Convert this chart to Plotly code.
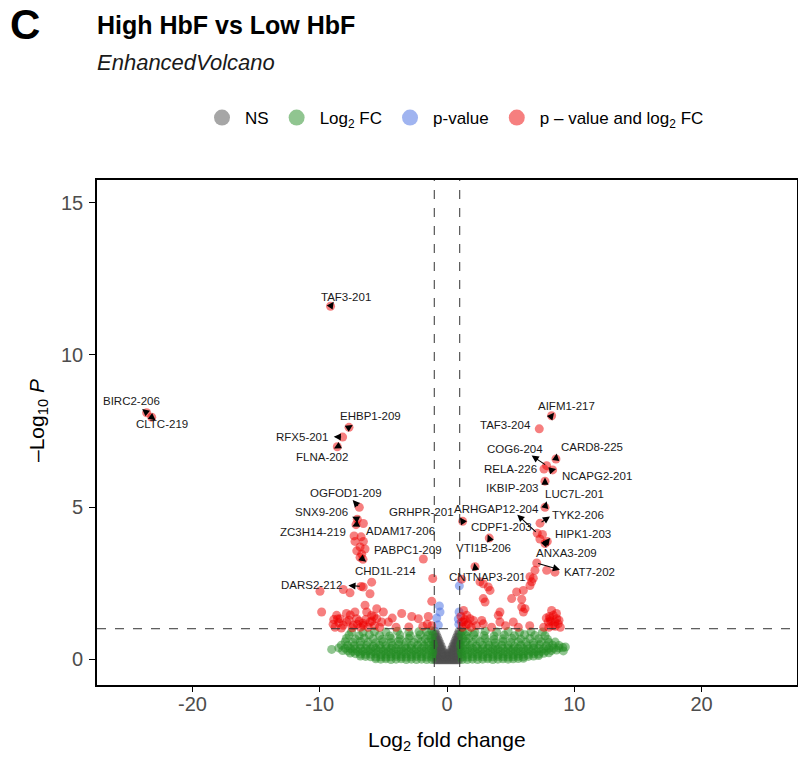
import plotly.graph_objects as go

FONT = "Liberation Sans, Arial, sans-serif"

# ---------------- data ----------------
FC_CUTOFF = 1.0          # |log2 FC| cut-off (vertical dashed lines)
P_CUTOFF_NEGLOG = 1.0    # -log10 p cut-off (horizontal dashed line)

x_tick_vals = [-20, -10, 0, 10, 20]
x_tick_text = ["-20", "-10", "0", "10", "20"]
y_tick_vals = [0, 5, 10, 15]
y_tick_text = ["0", "5", "10", "15"]

legend_names = ["NS", "Log<sub>2</sub> FC", "p-value", "p \u2013 value and log<sub>2</sub> FC"]

# labelled genes
genes = ["TAF3-201", "BIRC2-206", "CLTC-219", "EHBP1-209", "RFX5-201", "FLNA-202",
         "OGFOD1-209", "SNX9-206", "ZC3H14-219", "ADAM17-206", "PABPC1-209", "CHD1L-214",
         "DARS2-212", "GRHPR-201", "AIFM1-217", "TAF3-204", "CARD8-225", "COG6-204",
         "RELA-226", "NCAPG2-201", "IKBIP-203", "LUC7L-201", "ARHGAP12-204", "TYK2-206",
         "CDPF1-203", "HIPK1-203", "ANXA3-209", "VTI1B-206", "KAT7-202", "CNTNAP3-201"]
gene_fc = [-9.15, -23.6, -23.2, -7.7, -8.2, -8.62,
           -6.89, -7.05, -7.15, -6.57, -1.86, -6.6,
           -6.75, 1.23, 8.22, 7.25, 8.56, 7.83,
           7.62, 8.3, 7.7, 7.7, 7.09, 7.31,
           3.32, 7.88, 7.7, 2.2, 7.05, 6.52]
gene_p = [11.6, 8.1, 7.95, 7.62, 7.3, 6.98,
          4.99, 4.6, 4.42, 4.46, 3.29, 3.28,
          2.39, 4.53, 8.0, 7.57, 6.58, 6.36,
          6.25, 6.22, 5.85, 4.99, 4.14, 4.47,
          3.98, 3.87, 3.8, 3.04, 3.16, 2.71]

# significant (p and FC) - unlabelled
red_fc = [-7.23, -6.57, -6.83, -6.44, -7.09, -6.7, -6.83, -7.3, -6.75,
          -1.12, -9.98, -8.15, -7.62, -6.58, -5.92, -6.05,
          -6.44, -5.52, -6.31, -5.92, -5.0, -7.23, -8.67, -8.41, -7.88, -8.8, -8.15, -7.1,
          -5.52, -5.13, -4.61, -6.05, -6.58, -7.36, -9.85,
          -3.56, -2.77, -2.25, -1.47, -1.2,
          -1.2, -1.55, -1.9, -3.0, -4.0, -8.5, -7.6, -6.9, -6.2, -5.7, -7.9, -8.95, -6.4,
          -5.3, -4.3, -7.45, -8.3, -6.8, -5.9, -8.6, -7.7, -6.6, -5.75, -8.9, -7.05,
          1.15, 2.59, 2.85, 3.24, 3.38, 2.85, 2.99,
          5.47, 6.0, 6.52, 6.65, 6.78, 5.08, 5.87, 5.87, 6.13, 6.0,
          4.16, 4.03, 4.16, 5.21,
          1.55, 1.81, 1.28, 1.67, 2.07, 2.73, 2.85,
          8.09, 8.35, 8.62, 8.48, 7.96, 8.74, 8.22,
          6.91, 7.83, 8.48, 7.5, 7.3,
          1.2, 1.4, 1.1, 1.9, 2.3, 3.5, 4.6, 5.6, 6.5, 7.6, 8.0, 8.3, 8.9, 1.3, 8.6, 8.8,
          1.5, 1.15, 7.8, 8.15, 8.5, 8.05]
red_p = [3.87, 3.87, 3.69, 3.62, 3.56, 3.45, 3.35, 4.05, 4.02,
         2.65, 2.23, 2.29, 2.18, 2.37, 2.53, 2.15,
         1.77, 1.66, 1.55, 1.44, 1.55, 1.55, 1.44, 1.33, 1.22, 1.05, 1.11, 1.33,
         1.33, 1.22, 1.22, 1.22, 1.11, 1.11, 1.55,
         1.5, 1.4, 1.33, 1.4, 1.9,
         1.1, 1.15, 1.08, 1.06, 1.05, 1.2, 1.45, 1.25, 1.05, 1.1, 1.5, 1.15, 1.3,
         1.05, 1.35, 1.03, 1.02, 1.05, 1.25, 1.32, 1.28, 1.18, 1.4, 1.3, 1.15,
         2.63, 2.54, 2.48, 2.37, 2.26, 1.99, 1.88,
         2.21, 2.26, 2.42, 2.54, 2.66, 1.99, 1.97, 1.71, 1.66, 1.55,
         1.55, 1.44, 1.22, 1.22,
         1.44, 1.33, 1.22, 1.16, 1.27, 1.27, 1.16,
         1.33, 1.44, 1.33, 1.22, 1.22, 1.16, 1.6,
         2.92, 2.92, 2.86, 4.1, 3.95,
         1.05, 1.3, 1.4, 1.05, 1.1, 1.05, 1.1, 1.05, 1.1, 1.05, 1.05, 1.1, 1.05, 1.6, 1.5, 1.28,
         1.12, 1.22, 1.35, 1.25, 1.08, 1.4]

# p-value only (blue)
blue_fc = [-0.55, -0.81, -0.68, -0.6, 0.97, 0.95, 0.89, 0.93]
blue_p = [1.55, 1.35, 1.12, 1.75, 2.41, 1.55, 1.32, 1.15]

# not significant (grey)
ns_fc = [-0.95, -0.95, -0.95, -0.95, -0.95, -0.95, -0.95, -0.95, -0.95, -0.95,
         -0.85, -0.85, -0.85, -0.85, -0.85, -0.85, -0.85, -0.85, -0.85,
         -0.75, -0.75, -0.75, -0.75, -0.75, -0.75, -0.75, -0.75,
         -0.65, -0.65, -0.65, -0.65, -0.65, -0.65, -0.65,
         -0.55, -0.55, -0.55, -0.55, -0.55, -0.55,
         -0.45, -0.45, -0.45, -0.45, -0.45,
         -0.35, -0.35, -0.35, -0.35,
         -0.25, -0.25, -0.25,
         -0.15, -0.15, -0.15,
         -0.05, -0.05,
         0.05, 0.05,
         0.15, 0.15, 0.15,
         0.25, 0.25, 0.25,
         0.35, 0.35, 0.35, 0.35,
         0.45, 0.45, 0.45, 0.45, 0.45,
         0.55, 0.55, 0.55, 0.55, 0.55, 0.55,
         0.65, 0.65, 0.65, 0.65, 0.65, 0.65, 0.65,
         0.75, 0.75, 0.75, 0.75, 0.75, 0.75, 0.75, 0.75,
         0.85, 0.85, 0.85, 0.85, 0.85, 0.85, 0.85, 0.85, 0.85,
         0.95, 0.95, 0.95, 0.95, 0.95, 0.95, 0.95, 0.95, 0.95, 0.95]
ns_p = [-0.02, 0.1, 0.2, 0.3, 0.4, 0.5, 0.6, 0.7, 0.8, 0.92,
        -0.02, 0.1, 0.2, 0.3, 0.4, 0.5, 0.6, 0.7, 0.82,
        -0.02, 0.1, 0.2, 0.3, 0.4, 0.5, 0.6, 0.72,
        -0.02, 0.1, 0.2, 0.3, 0.4, 0.5, 0.62,
        -0.02, 0.1, 0.2, 0.3, 0.4, 0.52,
        -0.02, 0.1, 0.2, 0.3, 0.42,
        -0.02, 0.1, 0.2, 0.32,
        -0.02, 0.1, 0.22,
        -0.02, 0.08, 0.17,
        -0.02, 0.1,
        -0.02, 0.1,
        -0.02, 0.08, 0.17,
        -0.02, 0.1, 0.22,
        -0.02, 0.1, 0.2, 0.32,
        -0.02, 0.1, 0.2, 0.3, 0.42,
        -0.02, 0.1, 0.2, 0.3, 0.4, 0.52,
        -0.02, 0.1, 0.2, 0.3, 0.4, 0.5, 0.62,
        -0.02, 0.1, 0.2, 0.3, 0.4, 0.5, 0.6, 0.72,
        -0.02, 0.1, 0.2, 0.3, 0.4, 0.5, 0.6, 0.7, 0.82,
        -0.02, 0.1, 0.2, 0.3, 0.4, 0.5, 0.6, 0.7, 0.8, 0.92]

# log2 FC only (green), read row by row from the bottom of the cloud upward
green_fc = [
    # y ~ 0.00
    -5.6, -5.2, -4.8, -4.4, -4.0, -3.6, -3.2, -2.8, -2.4, -2.0, -1.6, -1.2,
    1.2, 1.6, 2.0, 2.4, 2.8, 3.2, 3.6, 4.0, 4.4, 4.8, 5.2, 5.6, 6.0,
    # y ~ 0.08
    -6.8, -6.4, -6.0, -5.6, -5.2, -4.8, -4.4, -4.0, -3.6, -3.2, -2.8, -2.4, -2.0, -1.6, -1.2,
    1.2, 1.6, 2.0, 2.4, 2.8, 3.2, 3.6, 4.0, 4.4, 4.8, 5.2, 5.6, 6.0, 6.4, 6.8, 7.2,
    # y ~ 0.17
    -7.6, -7.2, -6.8, -6.4, -6.0, -5.6, -5.2, -4.8, -4.4, -4.0, -3.6, -3.2, -2.8, -2.4, -2.0, -1.6, -1.15,
    1.15, 1.6, 2.0, 2.4, 2.8, 3.2, 3.6, 4.0, 4.4, 4.8, 5.2, 5.6, 6.0, 6.4, 6.8, 7.2, 7.6, 8.0,
    # y ~ 0.26
    -8.2, -7.8, -7.4, -7.0, -6.6, -6.2, -5.8, -5.4, -5.0, -4.6, -4.2, -3.8, -3.4, -3.0, -2.6, -2.2, -1.8, -1.4, -1.1,
    1.1, 1.4, 1.8, 2.2, 2.6, 3.0, 3.4, 3.8, 4.2, 4.6, 5.0, 5.4, 5.8, 6.2, 6.6, 7.0, 7.4, 7.8, 8.2, 8.6,
    # y ~ 0.35
    -8.5, -8.0, -7.6, -7.2, -6.8, -6.4, -6.0, -5.6, -5.2, -4.8, -4.4, -4.0, -3.6, -3.2, -2.8, -2.4, -2.0, -1.6, -1.2,
    1.2, 1.6, 2.0, 2.4, 2.8, 3.2, 3.6, 4.0, 4.4, 4.8, 5.2, 5.6, 6.0, 6.4, 6.8, 7.2, 7.6, 8.0, 8.4, 8.8, 9.1,
    # y ~ 0.45
    -8.3, -7.8, -7.3, -6.8, -6.3, -5.8, -5.3, -4.8, -4.3, -3.8, -3.3, -2.8, -2.3, -1.8, -1.4, -1.05,
    1.05, 1.4, 1.8, 2.3, 2.8, 3.3, 3.8, 4.3, 4.8, 5.3, 5.8, 6.3, 6.8, 7.3, 7.8, 8.3, 8.8,
    # y ~ 0.56
    -8.0, -7.4, -6.8, -6.2, -5.6, -5.0, -4.4, -3.8, -3.2, -2.6, -2.0, -1.5, -1.1,
    1.1, 1.5, 2.0, 2.6, 3.2, 3.8, 4.4, 5.0, 5.6, 6.2, 6.8, 7.4, 8.0, 8.5,
    # y ~ 0.67
    -7.9, -7.2, -6.5, -5.8, -5.1, -4.4, -3.7, -3.0, -2.3, -1.7, -1.25,
    1.25, 1.7, 2.3, 3.0, 3.7, 4.4, 5.1, 5.8, 6.5, 7.2, 7.9,
    # y ~ 0.78
    -7.7, -6.9, -6.1, -5.3, -4.5, -3.7, -2.9, -2.1, -1.5, -1.1,
    1.1, 1.5, 2.1, 2.9, 3.7, 4.5, 5.3, 6.1, 6.9, 7.7,
    # y ~ 0.90
    -7.5, -6.6, -5.7, -4.8, -3.9, -3.0, -2.2, -1.6, -1.2,
    1.2, 1.6, 2.2, 3.0, 3.9, 4.8, 5.7, 6.6, 7.5,
    # outliers
    -9.06, 9.14, 9.3]
green_p = [
    0.01, 0.0, 0.01, -0.01, 0.0, 0.01, -0.01, 0.0, -0.01, 0.0, -0.01, -0.01,
    -0.01, -0.01, 0.0, -0.01, 0.0, 0.01, -0.01, 0.0, 0.01, 0.0, 0.01, 0.02, 0.03,
    0.1, 0.09, 0.08, 0.07, 0.08, 0.07, 0.08, 0.09, 0.08, 0.07, 0.08, 0.09, 0.08, 0.07, 0.08,
    0.08, 0.07, 0.08, 0.09, 0.08, 0.07, 0.08, 0.09, 0.08, 0.07, 0.08, 0.09, 0.08, 0.09, 0.1, 0.12,
    0.2, 0.18, 0.17, 0.16, 0.17, 0.18, 0.16, 0.17, 0.18, 0.16, 0.17, 0.18, 0.16, 0.17, 0.18, 0.16, 0.17,
    0.17, 0.16, 0.18, 0.17, 0.16, 0.18, 0.17, 0.16, 0.18, 0.17, 0.16, 0.18, 0.17, 0.16, 0.18, 0.17, 0.19, 0.21,
    0.28, 0.27, 0.26, 0.25, 0.26, 0.27, 0.25, 0.26, 0.27, 0.25, 0.26, 0.27, 0.25, 0.26, 0.27, 0.25, 0.26, 0.27, 0.25,
    0.25, 0.27, 0.26, 0.25, 0.27, 0.26, 0.25, 0.27, 0.26, 0.25, 0.27, 0.26, 0.25, 0.27, 0.26, 0.25, 0.26, 0.27, 0.28, 0.3,
    0.37, 0.36, 0.35, 0.34, 0.36, 0.35, 0.34, 0.36, 0.35, 0.34, 0.36, 0.35, 0.34, 0.36, 0.35, 0.34, 0.36, 0.35, 0.34,
    0.35, 0.34, 0.36, 0.35, 0.34, 0.36, 0.35, 0.34, 0.36, 0.35, 0.34, 0.36, 0.35, 0.34, 0.36, 0.35, 0.34, 0.36, 0.36, 0.37, 0.38,
    0.46, 0.45, 0.44, 0.46, 0.45, 0.43, 0.46, 0.44, 0.45, 0.47, 0.44, 0.45, 0.46, 0.44, 0.45, 0.46,
    0.44, 0.46, 0.45, 0.43, 0.46, 0.45, 0.44, 0.46, 0.45, 0.43, 0.46, 0.44, 0.45, 0.47, 0.44, 0.46, 0.45,
    0.57, 0.55, 0.58, 0.56, 0.54, 0.57, 0.55, 0.58, 0.56, 0.55, 0.57, 0.56, 0.58,
    0.56, 0.58, 0.55, 0.57, 0.56, 0.54, 0.58, 0.55, 0.57, 0.56, 0.54, 0.57, 0.55, 0.56,
    0.68, 0.66, 0.69, 0.67, 0.65, 0.68, 0.66, 0.69, 0.67, 0.66, 0.68,
    0.67, 0.69, 0.66, 0.68, 0.65, 0.67, 0.69, 0.66, 0.68, 0.67, 0.65,
    0.79, 0.77, 0.8, 0.78, 0.76, 0.79, 0.77, 0.8, 0.78, 0.8,
    0.79, 0.77, 0.8, 0.78, 0.76, 0.79, 0.77, 0.8, 0.78, 0.77,
    0.9, 0.88, 0.91, 0.89, 0.92, 0.88, 0.9, 0.91, 0.93,
    0.92, 0.9, 0.88, 0.92, 0.89, 0.91, 0.88, 0.9, 0.89,
    0.32, 0.27, 0.4]

# ---------------- label placement (layout) ----------------
label_x = [-7.96, -24.8, -22.38, -6.0, -11.42, -9.84,
           -7.93, -9.84, -10.5, -3.69, -3.04, -4.87,
           -10.63, -1.99, 9.4, 4.56, 11.37, 5.34,
           4.95, 11.76, 5.08, 10.05, 3.9, 10.31,
           4.3, 10.71, 9.4, 2.83, 11.18, 3.22]
label_y = [11.92, 8.48, 7.72, 8.0, 7.3, 6.63,
           5.46, 4.85, 4.17, 4.22, 3.6, 2.9,
           2.43, 4.85, 8.33, 7.71, 6.96, 6.91,
           6.25, 6.03, 5.63, 5.43, 4.93, 4.74,
           4.33, 4.11, 3.49, 3.65, 2.85, 2.7]
# where each connector arrow-head sits (None = no connector)
head_x = [-8.9, -23.95, -22.9, -7.41, -8.9, -8.88,
          -7.41, -7.45, -7.45, -6.35, -2.07, -6.35,
          -7.75, 1.02, 8.41, 7.05, 8.62, 6.65,
          7.45, 8.58, 7.7, 7.83, 5.52, 8.09,
          3.2, 8.09, 7.96, 2.15, 8.88, None]
head_y = [11.75, 8.22, 7.85, 7.7, 7.31, 6.92,
          5.23, 4.68, 4.36, 4.4, 3.36, 3.2,
          2.42, 4.66, 8.1, 7.62, 6.76, 6.69,
          6.28, 6.25, 5.97, 5.19, 4.75, 4.69,
          4.1, 3.98, 3.92, 3.16, 2.94, None]

# ---------------- figure ----------------
COL_NS = "#4D4D4D"
COL_FC = "#228B22"
COL_P = "#4169E1"
COL_BOTH = "#EE0000"
ALPHA = 0.5
MSIZE = 9

fig_w, fig_h = 798, 763
m_l, m_r, m_t, m_b = 97, 1, 180, 78
pw, ph = fig_w - m_l - m_r, fig_h - m_t - m_b


def px2paper(px, py):
    return (px - m_l) / pw, (fig_h - m_b - py) / ph


fig = go.Figure()


def add_points(xs, ys, col):
    fig.add_trace(go.Scatter(x=xs, y=ys, mode="markers", showlegend=False, hoverinfo="skip",
                             marker=dict(size=MSIZE, color=col, opacity=ALPHA, line=dict(width=0))))


add_points(ns_fc, ns_p, COL_NS)
add_points(green_fc, green_p, COL_FC)
add_points(blue_fc, blue_p, COL_P)
add_points(red_fc, red_p, COL_BOTH)
add_points(gene_fc, gene_p, COL_BOTH)

# legend-only entries
for name, col in zip(legend_names, [COL_NS, COL_FC, COL_P, COL_BOTH]):
    fig.add_trace(go.Scatter(x=[None], y=[None], mode="markers", name=name,
                             marker=dict(size=16, color=col, opacity=ALPHA, line=dict(width=0))))

annotations = []
for i, g in enumerate(genes):
    if head_x[i] is not None:
        annotations.append(dict(x=head_x[i], y=head_y[i], ax=gene_fc[i], ay=gene_p[i],
                                xref="x", yref="y", axref="x", ayref="y", text="",
                                showarrow=True, arrowhead=2, arrowsize=1.3, arrowwidth=1.1,
                                arrowcolor="black", standoff=0, startstandoff=0))
    annotations.append(dict(x=label_x[i], y=label_y[i], xref="x", yref="y", text=g,
                            showarrow=False, font=dict(family=FONT, size=11.5, color="#1a1a1a")))

cx, cy = px2paper(8, 25)
annotations.append(dict(x=cx, y=cy, xref="paper", yref="paper", text="<b>C</b>", showarrow=False,
                        xanchor="left", yanchor="middle", font=dict(family=FONT, size=42, color="black")))
tx, ty = px2paper(95, 25)
annotations.append(dict(x=tx, y=ty, xref="paper", yref="paper", text="<b>High HbF vs Low HbF</b>",
                        showarrow=False, xanchor="left", yanchor="middle",
                        font=dict(family=FONT, size=25, color="black")))
sx, sy = px2paper(95, 62)
annotations.append(dict(x=sx, y=sy, xref="paper", yref="paper", text="<i>EnhancedVolcano</i>",
                        showarrow=False, xanchor="left", yanchor="middle",
                        font=dict(family=FONT, size=22, color="#1a1a1a")))
yx, yy = px2paper(38, 421)
annotations.append(dict(x=yx, y=yy, xref="paper", yref="paper",
                        text="\u2013Log<sub>10</sub> <i>P</i>", textangle=-90,
                        showarrow=False, xanchor="center", yanchor="middle",
                        font=dict(family=FONT, size=21, color="black")))
ax_, ay_ = px2paper(447, 741)
annotations.append(dict(x=ax_, y=ay_, xref="paper", yref="paper",
                        text="Log<sub>2</sub> fold change",
                        showarrow=False, xanchor="center", yanchor="middle",
                        font=dict(family=FONT, size=21, color="black")))

shapes = []
for xv in (-FC_CUTOFF, FC_CUTOFF):
    shapes.append(dict(type="line", xref="x", yref="paper", x0=xv, x1=xv, y0=0, y1=1,
                       line=dict(color="#333333", width=1, dash="dash"), layer="above"))
shapes.append(dict(type="line", xref="paper", yref="y", x0=0, x1=1, y0=P_CUTOFF_NEGLOG,
                   y1=P_CUTOFF_NEGLOG, line=dict(color="#333333", width=1, dash="dash"), layer="above"))

lx, ly = px2paper(454, 118)
fig.update_layout(
    width=fig_w, height=fig_h,
    margin=dict(l=m_l, r=m_r, t=m_t, b=m_b, pad=0, autoexpand=False),
    paper_bgcolor="white", plot_bgcolor="white",
    font=dict(family=FONT, color="black"),
    showlegend=True,
    legend=dict(orientation="h", x=lx, y=ly, xanchor="center", yanchor="middle",
                font=dict(family=FONT, size=17, color="black"), itemsizing="trace",
                itemwidth=36, bgcolor="rgba(0,0,0,0)"),
    annotations=annotations,
    shapes=shapes,
    xaxis=dict(range=[-27.5, 27.5], tickvals=x_tick_vals, ticktext=x_tick_text,
               showgrid=False, zeroline=False, showline=True, linecolor="black", linewidth=1.6,
               mirror=True, ticks="outside", ticklen=5, tickwidth=1.4, tickcolor="black",
               automargin=False, ticklabelstandoff=-5,
               tickfont=dict(family=FONT, size=20, color="#4D4D4D")),
    yaxis=dict(range=[-0.85, 15.75], tickvals=y_tick_vals, ticktext=y_tick_text,
               showgrid=False, zeroline=False, showline=True, linecolor="black", linewidth=1.6,
               mirror=True, ticks="outside", ticklen=6, tickwidth=1.4, tickcolor="black",
               automargin=False, ticklabelstandoff=2,
               tickfont=dict(family=FONT, size=20, color="#4D4D4D")),
)

fig.write_html("out.html", config={"displayModeBar": False},
               post_script="document.body.style.margin='0';document.body.style.overflow='hidden';")
